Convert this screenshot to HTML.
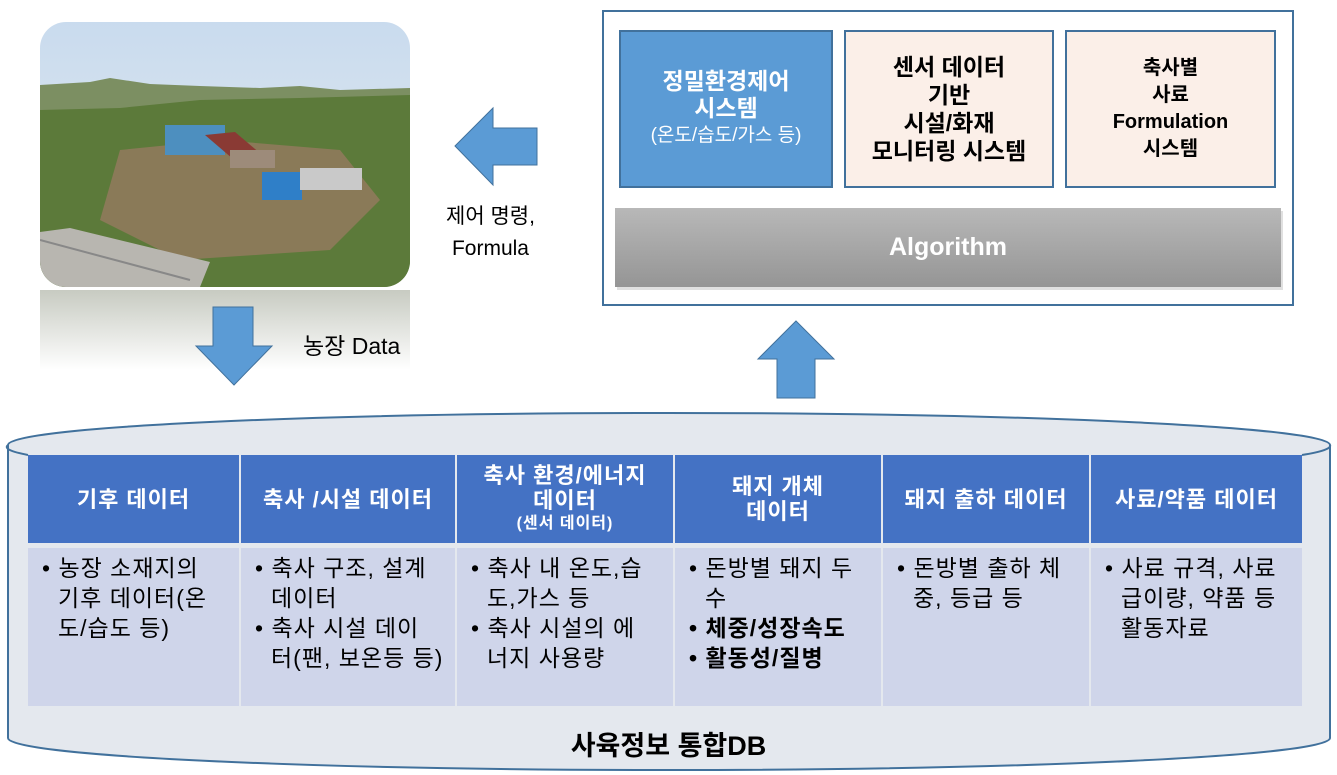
<!DOCTYPE html>
<html><head><meta charset="utf-8"><style>
body{margin:0;width:1337px;height:775px;background:#fff;position:relative;overflow:hidden;font-family:"Liberation Sans","Noto Sans CJK KR",sans-serif}
.a{position:absolute}
.c{display:flex;flex-direction:column;align-items:center;justify-content:center;text-align:center}
.th{position:absolute;top:455px;height:88px;background:#4472c4;color:#fff;font-weight:bold;font-size:22px;line-height:25px;letter-spacing:1px}
.td{position:absolute;top:548px;height:158px;background:#cfd5ea;font-size:23px;line-height:30px;padding:5px 8px 0 14px;box-sizing:border-box;letter-spacing:1px;word-break:break-all}
.td div{padding-left:16px;text-indent:-16px}
</style></head><body>
<svg class="a" style="left:0;top:0" width="1337" height="775">
<defs>
<linearGradient id="sky" x1="0" y1="0" x2="0" y2="1"><stop offset="0" stop-color="#c9dbee"/><stop offset="1" stop-color="#e6ecef"/></linearGradient>
<linearGradient id="refl" x1="0" y1="0" x2="0" y2="1"><stop offset="0" stop-color="#9aa08f"/><stop offset="1" stop-color="#fff"/></linearGradient>
<linearGradient id="alg" x1="0" y1="0" x2="0" y2="1"><stop offset="0" stop-color="#b8b8b8"/><stop offset="1" stop-color="#959595"/></linearGradient>
<clipPath id="ph"><rect x="40" y="22" width="370" height="265" rx="26"/></clipPath>
</defs>
<g clip-path="url(#ph)">
<rect x="40" y="22" width="370" height="265" fill="url(#sky)"/>
<path d="M40,85 L90,82 L110,78 L150,84 L200,86 L260,88 L300,86 L340,90 L410,88 L410,287 L40,287Z" fill="#7c8f62"/>
<path d="M40,110 L120,108 L200,100 L300,98 L410,95 L410,287 L40,287Z" fill="#5c7a3a"/>
<path d="M120,150 L220,140 L340,150 L380,200 L330,250 L180,260 L100,220Z" fill="#8a7a58"/>
<rect x="165" y="125" width="60" height="30" fill="#4d8fbf"/>
<path d="M205,135 L235,132 L268,160 L240,165Z" fill="#8a3a34"/>
<rect x="230" y="150" width="45" height="18" fill="#9d8b7a"/>
<rect x="262" y="172" width="40" height="28" fill="#2f7fc8"/>
<rect x="300" y="168" width="62" height="22" fill="#c9c9c9"/>
<path d="M40,232 L70,228 L210,262 L200,287 L40,287Z" fill="#b8b6b0"/>
<path d="M40,240 L190,280" stroke="#888" stroke-width="2"/>
</g>
<rect x="40" y="290" width="370" height="80" fill="url(#refl)" opacity="0.55"/>
<polygon points="455,146 493,108 493,128 537,128 537,165 493,165 493,185" fill="#5b9bd5" stroke="#41719c"/>
<polygon points="213,307 253,307 253,346 272,346 234,385 196,346 213,346" fill="#5b9bd5" stroke="#41719c"/>
<polygon points="796,321 834,359 815,359 815,398 777,398 777,359 758,359" fill="#5b9bd5" stroke="#41719c"/>
<path d="M8,445 A661,32 0 0 1 1330,445 L1330,738 A661,32 0 0 1 8,738 Z" fill="#e4e8ee" stroke="#41719c" stroke-width="2"/>
<path d="M8,445 A661,32 0 0 0 28,455" fill="none" stroke="#41719c" stroke-width="2"/>
<path d="M1330,445 A661,32 0 0 1 1302,455" fill="none" stroke="#41719c" stroke-width="2"/>
<rect x="603" y="11" width="690" height="294" fill="#fff" stroke="#41719c" stroke-width="2"/>
<rect x="620" y="31" width="212" height="156" fill="#5b9bd5" stroke="#41719c" stroke-width="2"/>
<rect x="845" y="31" width="208" height="156" fill="#fbefe8" stroke="#41719c" stroke-width="2"/>
<rect x="1066" y="31" width="209" height="156" fill="#fbefe8" stroke="#41719c" stroke-width="2"/>
<rect x="617" y="211" width="666" height="79" fill="#ccc" opacity="0.6"/>
<rect x="615" y="208" width="666" height="79" fill="url(#alg)"/>
</svg>
<div class="a c" style="left:620px;top:31px;width:212px;height:156px;color:#fff;font-weight:bold;font-size:23px;line-height:27px">정밀환경제어<br>시스템<span style="font-weight:normal;font-size:19px;line-height:28px">(온도/습도/가스 등)</span></div>
<div class="a c" style="left:845px;top:31px;width:208px;height:156px;font-weight:bold;font-size:23px;line-height:28px">센서 데이터<br>기반<br>시설/화재<br>모니터링 시스템</div>
<div class="a c" style="left:1066px;top:31px;width:209px;height:156px;font-weight:bold;font-size:20px;line-height:27px">축사별<br>사료<br>Formulation<br>시스템</div>
<div class="a c" style="left:615px;top:208px;width:666px;height:79px;color:#fff;font-weight:bold;font-size:25px">Algorithm</div>
<div class="a" style="left:446px;top:201px;font-size:21px;line-height:32px;text-align:center">제어 명령,<br>Formula</div>
<div class="a" style="left:303px;top:327px;font-size:23px">농장 Data</div>
<div class="th c" style="left:28px;width:211px">기후 데이터</div>
<div class="th c" style="left:241px;width:214px">축사 /시설 데이터</div>
<div class="th c" style="left:457px;width:216px">축사 환경/에너지<br>데이터<span style="font-size:16px;line-height:22px">(센서 데이터)</span></div>
<div class="th c" style="left:675px;width:206px">돼지 개체<br>데이터</div>
<div class="th c" style="left:883px;width:206px">돼지 출하 데이터</div>
<div class="th c" style="left:1091px;width:211px">사료/약품 데이터</div>
<div class="td" style="left:28px;width:211px"><div>• 농장 소재지의<br>기후 데이터(온<br>도/습도 등)</div></div>
<div class="td" style="left:241px;width:214px"><div>• 축사 구조, 설계<br>데이터</div><div>• 축사 시설 데이<br>터(팬, 보온등 등)</div></div>
<div class="td" style="left:457px;width:216px"><div>• 축사 내 온도,습<br>도,가스 등</div><div>• 축사 시설의 에<br>너지 사용량</div></div>
<div class="td" style="left:675px;width:206px"><div>• 돈방별 돼지 두<br>수</div><div style="font-weight:bold">• 체중/성장속도</div><div style="font-weight:bold">• 활동성/질병</div></div>
<div class="td" style="left:883px;width:206px"><div>• 돈방별 출하 체<br>중, 등급 등</div></div>
<div class="td" style="left:1091px;width:211px"><div>• 사료 규격, 사료<br>급이량, 약품 등<br>활동자료</div></div>
<div class="a" style="left:0;width:1337px;top:724px;text-align:center;font-weight:bold;font-size:27px">사육정보 통합DB</div>
</body></html>
